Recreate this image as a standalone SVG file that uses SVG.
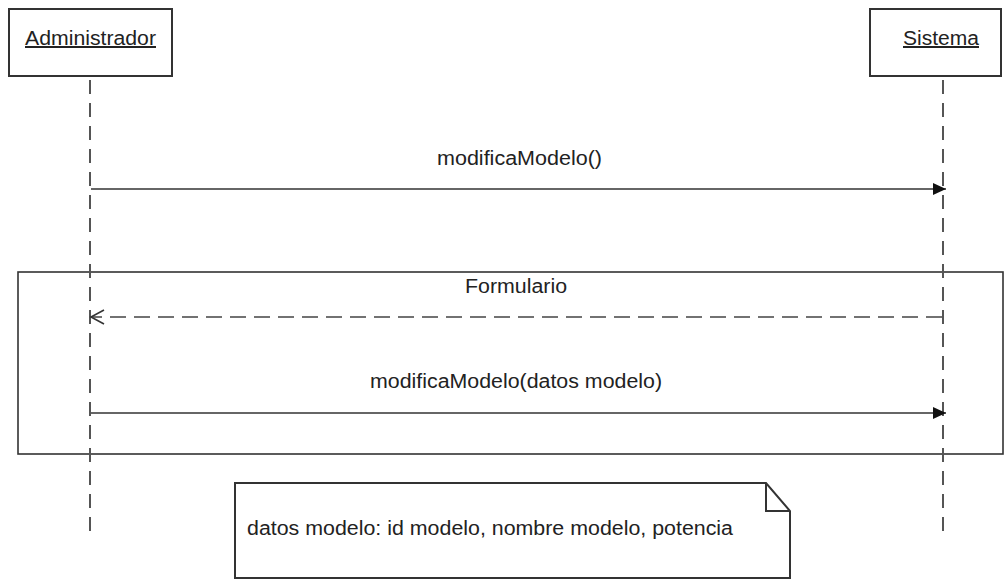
<svg xmlns="http://www.w3.org/2000/svg" width="1005" height="580" viewBox="0 0 1005 580">
  <style>
    .box { fill: #ffffff; stroke: #333333; stroke-width: 2; }
    .frame { fill: none; stroke: #333333; stroke-width: 1.6; }
    .life { stroke: #555555; stroke-width: 2; stroke-dasharray: 14 9; fill: none; }
    .msg { stroke: #333333; stroke-width: 1.6; fill: none; }
    .ret { stroke: #444444; stroke-width: 1.6; stroke-dasharray: 16 8; fill: none; }
    .lbl { font-family: "Liberation Sans", Arial, sans-serif; font-size: 20px; fill: #222222; }
    .obj { text-decoration: underline; }
  </style>
  <defs>
    <marker id="filled" markerWidth="14" markerHeight="12" refX="13" refY="6" orient="auto" markerUnits="userSpaceOnUse">
      <path d="M0,0 L13,6 L0,12 Z" fill="#111111"/>
    </marker>
    <marker id="open" markerWidth="16" markerHeight="16" refX="14" refY="8" orient="auto" markerUnits="userSpaceOnUse">
      <path d="M1,1 L14,8 L1,15" fill="none" stroke="#333333" stroke-width="1.6"/>
    </marker>
  </defs>

  <rect width="1005" height="580" fill="#ffffff"/>

  <!-- combined fragment frame -->
  <rect class="frame" x="18" y="272" width="985" height="182"/>

  <!-- lifelines -->
  <g id="lifelines">
    <line class="life" x1="90" y1="80" x2="90" y2="532"/>
    <line class="life" x1="943" y1="80" x2="943" y2="532"/>
  </g>

  <g id="administrador">
    <rect class="box" x="9" y="9" width="163" height="67"/>
    <text class="lbl obj" x="90.5" y="45" text-anchor="middle" textLength="131" lengthAdjust="spacingAndGlyphs">Administrador</text>
  </g>

  <g id="sistema">
    <rect class="box" x="870" y="9" width="131" height="67"/>
    <text class="lbl obj" x="941" y="45" text-anchor="middle" textLength="76" lengthAdjust="spacingAndGlyphs">Sistema</text>
  </g>

  <g id="connectors">
    <line class="msg" x1="91" y1="189" x2="946" y2="189" marker-end="url(#filled)"/>
    <text class="lbl" x="519.5" y="165" text-anchor="middle" textLength="165" lengthAdjust="spacingAndGlyphs">modificaModelo()</text>

    <line class="ret" x1="942" y1="317" x2="91" y2="317" marker-end="url(#open)"/>
    <text class="lbl" x="516" y="293" text-anchor="middle" textLength="102" lengthAdjust="spacingAndGlyphs">Formulario</text>

    <line class="msg" x1="91" y1="413" x2="946" y2="413" marker-end="url(#filled)"/>
    <text class="lbl" x="516" y="388" text-anchor="middle" textLength="292" lengthAdjust="spacingAndGlyphs">modificaModelo(datos modelo)</text>
  </g>

  <g id="note">
    <path class="box" d="M235,483 L766,483 L790,511 L790,578 L235,578 Z"/>
    <path d="M766,483 L766,511 L790,511" fill="none" stroke="#333333" stroke-width="2"/>
    <text class="lbl" x="247" y="535" textLength="486" lengthAdjust="spacingAndGlyphs">datos modelo: id modelo, nombre modelo, potencia</text>
  </g>
</svg>
